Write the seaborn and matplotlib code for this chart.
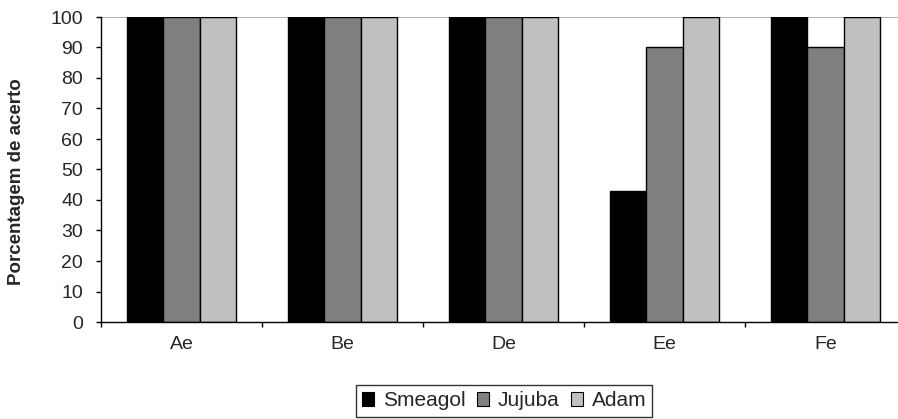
import matplotlib
matplotlib.use("Agg")
import matplotlib.pyplot as plt
import seaborn as sns
import pandas as pd
from matplotlib.patches import Patch

categories = ["Ae", "Be", "De", "Ee", "Fe"]
series_names = ["Smeagol", "Jujuba", "Adam"]
smeagol = [100, 100, 100, 43, 100]
jujuba = [100, 100, 100, 90, 90]
adam = [100, 100, 100, 100, 100]
colors = ["#000000", "#808080", "#c0c0c0"]
yticks = list(range(0, 101, 10))

rows = []
for name, vals in zip(series_names, [smeagol, jujuba, adam]):
    for c, v in zip(categories, vals):
        rows.append({"cat": c, "serie": name, "val": v})
df = pd.DataFrame(rows)

sns.set_theme(style="white")
plt.rcParams["font.family"] = ["Liberation Sans", "DejaVu Sans"]

fig = plt.figure(figsize=(8.98, 4.19), dpi=100)
ax = fig.add_axes([101 / 898, (419 - 322) / 419, 805 / 898, 305 / 419])

sns.barplot(data=df, x="cat", y="val", hue="serie", order=categories,
            hue_order=series_names, palette=colors, width=0.68, gap=0,
            edgecolor="black", linewidth=1.0, saturation=1, ax=ax, legend=False,
            errorbar=None)

ax.set_ylim(0, 100)
ax.set_xlim(-0.5, len(categories) - 0.5)
ax.set_yticks(yticks)
ax.set_yticklabels([str(t) for t in yticks], fontsize=14)
ax.set_xticks([i - 0.5 for i in range(len(categories) + 1)], minor=False)
ax.set_xticklabels([""] * (len(categories) + 1))
ax.set_xticks(range(len(categories)), minor=True)
ax.set_xticklabels(categories, minor=True, fontsize=14)
ax.tick_params(axis="x", which="minor", length=0, pad=10)
ax.tick_params(axis="x", which="major", length=3.6, width=1, color="black", direction="out", bottom=True)
ax.tick_params(axis="y", length=3.3, width=1, color="black", direction="out", left=True, pad=9.5)
ax.set_xlabel("")
ax.set_ylabel("Porcentagem de acerto", fontsize=13.5, fontweight="bold")
ax.yaxis.set_label_coords((25 - 101) / 805, (322 - 181.5) / 305)
ax.axhline(100, color="#a0a0a0", lw=1.2, zorder=0.5)

for side in ["top", "right"]:
    ax.spines[side].set_visible(False)
for side in ["left", "bottom"]:
    ax.spines[side].set_color("black")
    ax.spines[side].set_linewidth(1.0)

handles = [Patch(facecolor=c, edgecolor="black", linewidth=0.8) for c in colors]
leg = fig.legend(handles, series_names, loc="upper center", bbox_to_anchor=(504 / 898, 1 - 385 / 419),
                 ncol=3, fontsize=15, frameon=True, fancybox=False, handlelength=0.6,
                 handleheight=0.6, handletextpad=0.4, columnspacing=0.55, borderpad=0.3,
                 borderaxespad=0)
leg.get_frame().set_edgecolor("black")
leg.get_frame().set_linewidth(1.0)

fig.savefig("out.png", dpi=100)
